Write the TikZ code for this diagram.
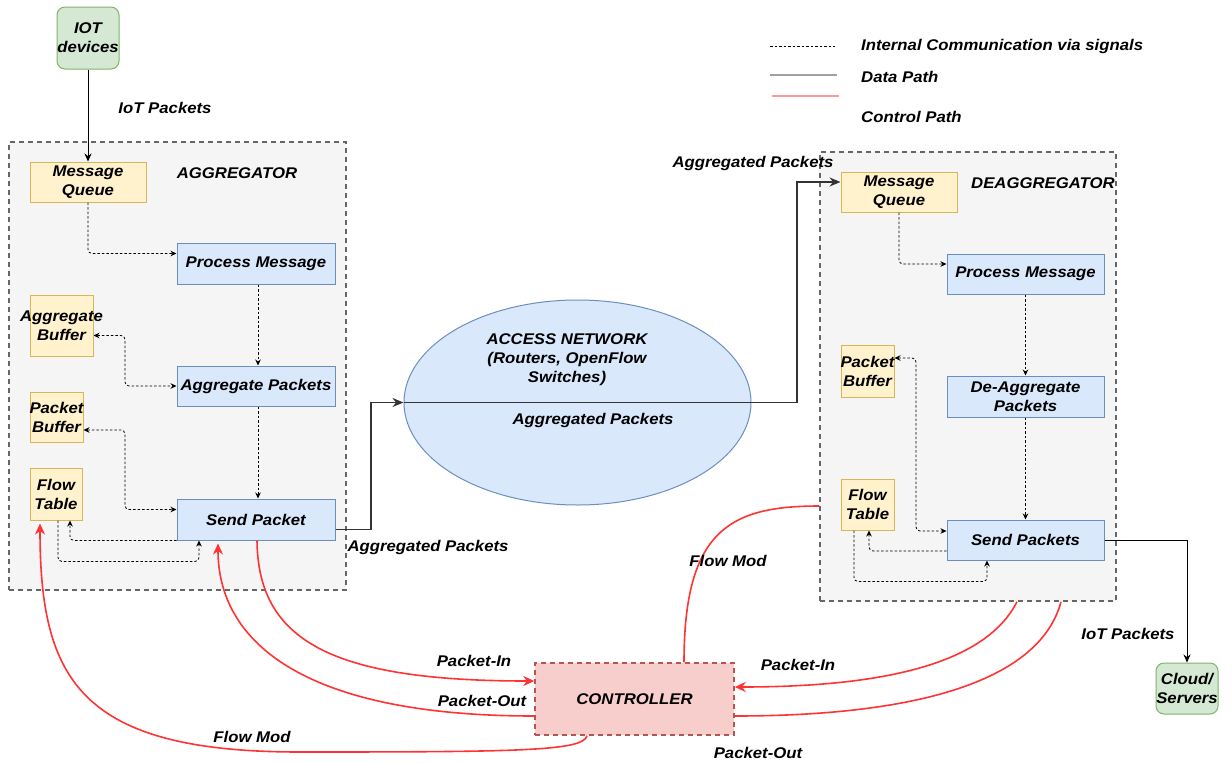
\documentclass[tikz,border=0pt]{standalone}
\usepackage{fontspec}
\setmainfont{Liberation Sans}[FakeStretch=1.08]
\usetikzlibrary{arrows.meta,shapes.geometric,calc}

\definecolor{yfill}{HTML}{FFF2CC}
\definecolor{ydraw}{HTML}{D6B656}
\definecolor{bfill}{HTML}{DAE8FC}
\definecolor{bdraw}{HTML}{6C8EBF}
\definecolor{gfill}{HTML}{D5E8D4}
\definecolor{gdraw}{HTML}{82B366}
\definecolor{rfill}{HTML}{F8CECC}
\definecolor{rdraw}{HTML}{B85450}
\definecolor{cfill}{HTML}{F5F5F5}
\definecolor{cdraw}{HTML}{666666}
\definecolor{dgray}{HTML}{333333}
\definecolor{cred}{HTML}{FF3333}
\definecolor{lgray}{HTML}{A0A0A0}
\definecolor{lred}{HTML}{FF9999}

\begin{document}
\begin{tikzpicture}[x=1pt,y=-1pt,
  font=\fontsize{15.5}{19}\selectfont\bfseries\itshape,
  container/.style={rectangle, draw=cdraw, fill=cfill, line width=1.5pt,
    dash pattern=on 5pt off 4pt, inner sep=0pt},
  box/.style={rectangle, inner sep=0pt, align=center, line width=1pt},
  yellowbox/.style={box, draw=ydraw, fill=yfill},
  bluebox/.style={box, draw=bdraw, fill=bfill},
  greenbox/.style={box, rounded corners=8pt, draw=gdraw, fill=gfill},
  ctrlbox/.style={box, draw=rdraw, fill=rfill, line width=1.5pt, dash pattern=on 5pt off 4pt},
  lbl/.style={inner sep=0pt, align=center},
  sig/.style={line width=0.8pt, dash pattern=on 2.5pt off 2pt, rounded corners=4pt,
    -{Stealth[length=6pt,width=5.5pt]}},
  sigboth/.style={sig, {Stealth[length=6pt,width=5.5pt]}-{Stealth[length=6pt,width=5.5pt]}},
  data/.style={draw=dgray, line width=1.6pt},
  dataarrow/.style={data, -{Stealth[length=11pt,width=9pt]}},
  thinarrow/.style={draw=black, line width=0.9pt, -{Stealth[length=8pt,width=7pt]}},
  ctl/.style={draw=cred, line width=1.6pt},
  ctlarrow/.style={ctl, -{Stealth[length=11pt,width=10pt]}}
]
\useasboundingbox (0,0) rectangle (1232,763);

% ---------- containers ----------
\node[container, minimum width=337pt, minimum height=448pt] (aggbox) at (177.5,366) {};
\node[container, minimum width=296pt, minimum height=449pt] (deaggbox) at (968,376.5) {};

% ---------- end points ----------
\node[greenbox, minimum width=62pt, minimum height=62pt] (iot) at (88,38) {IOT\\devices};
\node[greenbox, minimum width=62pt, minimum height=51pt] (cloud) at (1187,688.5) {Cloud/\\Servers};

% ---------- aggregator ----------
\node[lbl] (aggtitle) at (237,173) {AGGREGATOR};
\node[yellowbox, minimum width=116pt, minimum height=40pt] (mq1) at (88,182) {Message\\Queue};
\node[bluebox, minimum width=158pt, minimum height=41pt] (pm1) at (256,263.5) {Process Message};
\node[yellowbox, minimum width=63pt, minimum height=61pt] (ab1) at (61.5,325.5)
  {\makebox[61pt]{Aggregate}\\Buffer};
\node[bluebox, minimum width=158pt, minimum height=40pt] (ap1) at (256,386) {Aggregate Packets};
\node[yellowbox, minimum width=53pt, minimum height=50pt] (pb1) at (56.5,417)
  {\makebox[51pt]{Packet}\\Buffer};
\node[yellowbox, minimum width=52pt, minimum height=52pt] (ft1) at (56,494) {Flow\\Table};
\node[bluebox, minimum width=158pt, minimum height=41pt] (sp1) at (256,519.5) {Send Packet};

% ---------- deaggregator ----------
\node[lbl] (deaggtitle) at (1043,183) {DEAGGREGATOR};
\node[yellowbox, minimum width=116pt, minimum height=40pt] (mq2) at (899,192) {Message\\Queue};
\node[bluebox, minimum width=157pt, minimum height=40pt] (pm2) at (1025.5,274) {Process Message};
\node[yellowbox, minimum width=53pt, minimum height=52pt] (pb2) at (867.5,371)
  {\makebox[51pt]{Packet}\\Buffer};
\node[bluebox, minimum width=157pt, minimum height=41pt] (da2) at (1025.5,396.5) {De-Aggregate\\Packets};
\node[yellowbox, minimum width=53pt, minimum height=51pt] (ft2) at (867.5,504.5) {Flow\\Table};
\node[bluebox, minimum width=157pt, minimum height=40pt] (sp2) at (1025.5,540) {Send Packets};

% ---------- network and controller ----------
\node[ellipse, draw=bdraw, fill=bfill, line width=1pt, minimum width=347pt,
      minimum height=205pt, inner sep=0pt] (net) at (577.5,402.5) {};
\node[lbl] (nettitle) at (567,360) {ACCESS NETWORK\\(Routers, OpenFlow\\Switches)};
\node[ctrlbox, minimum width=199pt, minimum height=72pt] (ctrl) at (634.5,699) {CONTROLLER};

% ---------- internal signals: aggregator ----------
\draw[sig] (mq1.south) |- ([yshift=10pt]pm1.west);
\draw[sig] ([xshift=2pt]pm1.south) -- ([xshift=2pt]ap1.north);
\draw[sigboth] ([yshift=-10pt]ab1.east) -| (125,360) |- (ap1.west);
\draw[sig] ([xshift=2pt]ap1.south) -- ([xshift=2pt]sp1.north);
\draw[sigboth] ([yshift=-13pt]pb1.east) -| (125,470) |- ([yshift=10pt]sp1.west);
\draw[sig] (sp1.south west) -| ([xshift=14pt]ft1.south);
\draw[sig] ([xshift=2pt]ft1.south) -- ++(0,41) -| ([xshift=-57pt]sp1.south);

% ---------- internal signals: deaggregator ----------
\draw[sig] (mq2.south) |- ([yshift=10pt]pm2.west);
\draw[sig] (pm2.south) -- (da2.north);
\draw[sigboth] ([yshift=13pt]pb2.east) -| (916,450) |- ([yshift=9pt]sp2.west);
\draw[sig] (da2.south) -- (sp2.north);
\draw[sig] ([yshift=-11pt]sp2.west) -| ([xshift=1.5pt]ft2.south);
\draw[sig] ([xshift=-13.5pt]ft2.south) -- ++(0,51) -| ([xshift=-38.5pt]sp2.south);

% ---------- data path ----------
\draw[thinarrow] (iot.south) -- (mq1.north);
\node[lbl] (iotlbl1) at (165,108) {IoT Packets};
\coordinate (bendA) at (371,402.5);
\coordinate (bendB) at (797,402.5);
\draw[dataarrow] ([yshift=-10pt]sp1.east) -| (bendA) -- (net.west);
\draw[data] (net.west) -- (net.east);
\draw[dataarrow] (net.east) -- (bendB) |- ([yshift=10pt]mq2.west);
\node[lbl] (aplbl1) at (428,547) {Aggregated Packets};
\node[lbl] (aplbl2) at (593,420) {Aggregated Packets};
\node[lbl] (aplbl3) at (753,163) {Aggregated Packets};
\draw[thinarrow] (sp2.east) -| (cloud.north);
\node[lbl] (iotlbl2) at (1128,634) {IoT Packets};

% ---------- control path ----------
\draw[ctlarrow] ([xshift=1pt]sp1.south) .. controls (258,640) and (330,681) .. ([yshift=18pt]ctrl.west);
\draw[ctlarrow] ([yshift=-17pt]ctrl.west) .. controls (300,716) and (218,640) .. ([xshift=-38pt,yshift=-3pt]sp1.south);
\draw[ctlarrow] ([xshift=-47.5pt]ctrl.south) .. controls (583,751) and (520,752) .. (300,752)
                .. controls (80,752) and (40,680) .. ([xshift=-16pt,yshift=-3pt]ft1.south);
\draw[ctl] ([xshift=49.5pt]ctrl.north) .. controls (684,530) and (730,506) .. ([yshift=-129.5pt]deaggbox.west);
\draw[ctlarrow] ([xshift=49pt]deaggbox.south) .. controls (985,665) and (880,687) .. ([yshift=12pt]ctrl.east);
\draw[ctl] ([yshift=-17pt]ctrl.east) .. controls (920,716) and (1040,680) .. ([xshift=93pt]deaggbox.south);
\node[lbl] (pinl) at (474,661) {Packet-In};
\node[lbl] (poutl) at (482,701) {Packet-Out};
\node[lbl] (fml) at (252,737) {Flow Mod};
\node[lbl] (fmr) at (728,561) {Flow Mod};
\node[lbl] (pinr) at (798,665) {Packet-In};
\node[lbl] (poutr) at (758,753) {Packet-Out};

% ---------- legend ----------
\coordinate (lgA1) at (770,46);  \coordinate (lgA2) at (835,46);
\coordinate (lgB1) at (770,75);  \coordinate (lgB2) at (837,75);
\coordinate (lgC1) at (772,96);  \coordinate (lgC2) at (839,96);
\draw[line width=0.8pt, dash pattern=on 2.5pt off 2pt] (lgA1) -- (lgA2);
\draw[lgray, line width=1.3pt] (lgB1) -- (lgB2);
\draw[lred, line width=1.6pt] (lgC1) -- (lgC2);
\node[lbl, anchor=west] (lgtA) at (861,46) {Internal Communication via signals};
\node[lbl, anchor=west] (lgtB) at (861,77) {Data Path};
\node[lbl, anchor=west] (lgtC) at (861,117) {Control Path};
\end{tikzpicture}
\end{document}
